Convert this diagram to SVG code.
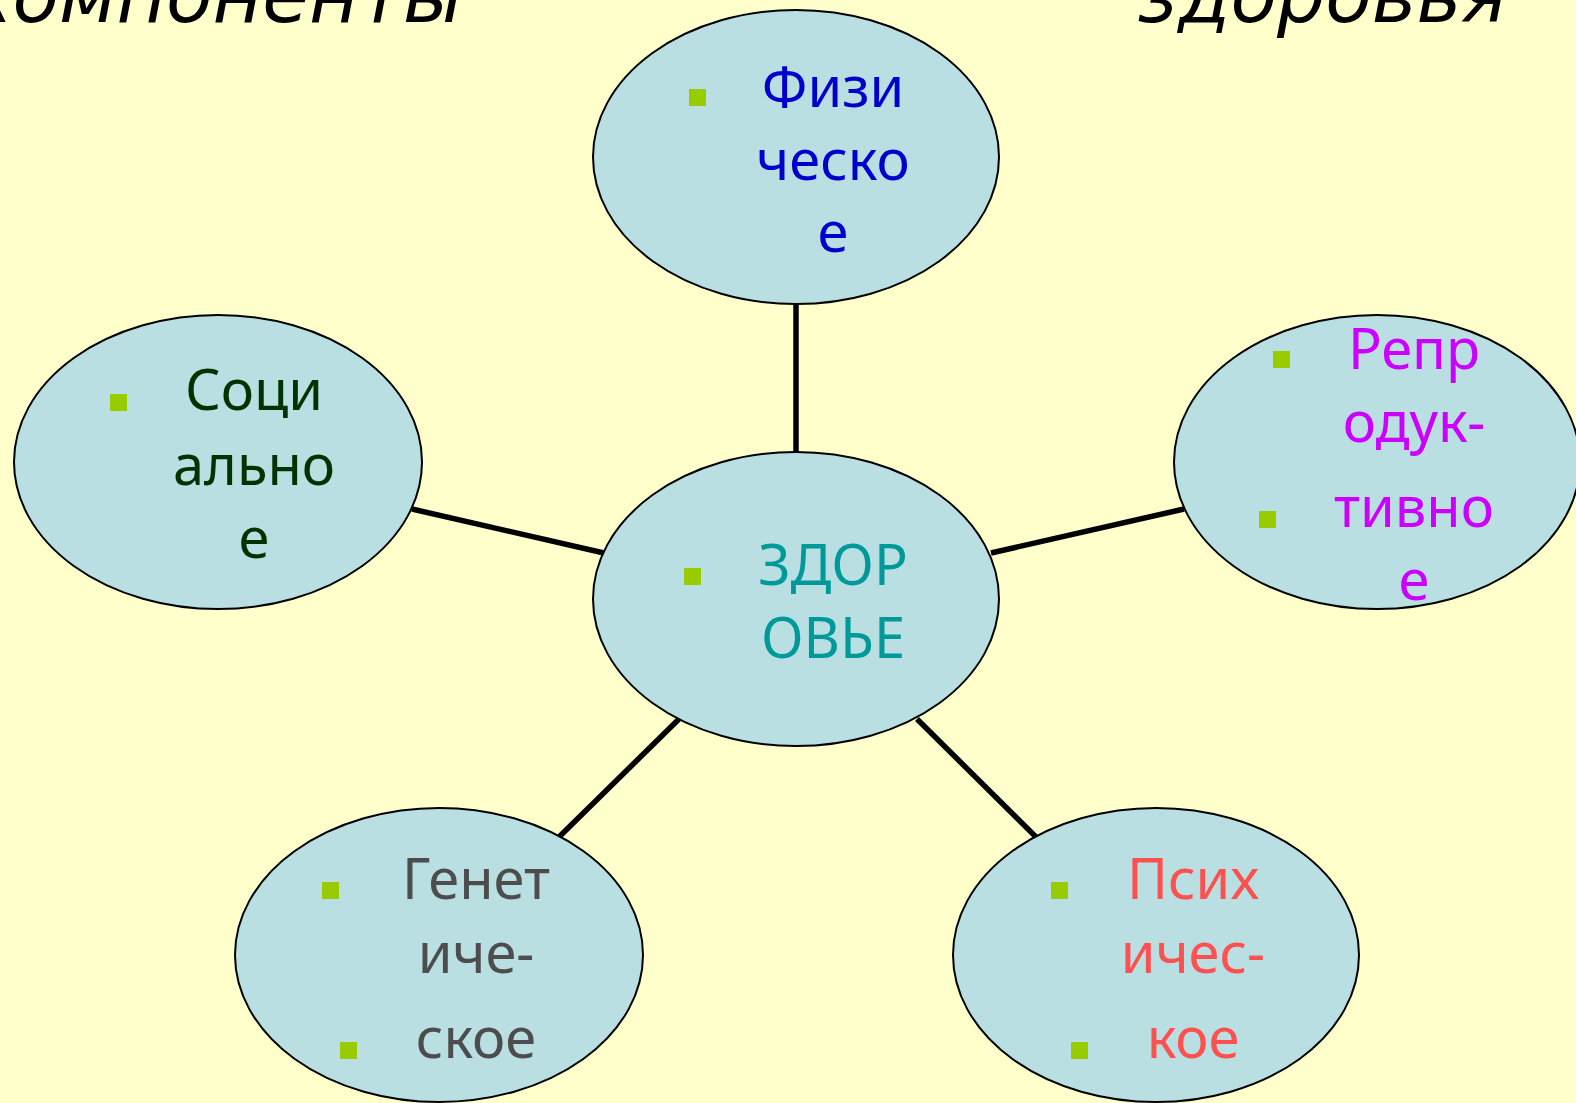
<svg xmlns="http://www.w3.org/2000/svg" width="1576" height="1103" viewBox="0 0 1576 1103">
  <style>
    .bg { fill: #FFFFCC; }
    .node ellipse { fill: #B9DFE3; stroke: #000; stroke-width: 2; }
    .bullet { fill: #99CC00; }
    .lbl { font-family: "Noto Sans", "DejaVu Sans", sans-serif; font-size: 56px; text-anchor: middle; }
    .title { font-family: "DejaVu Sans", Verdana, sans-serif; font-size: 76px; font-style: italic; fill: #000; }
    #connectors line { stroke: #000; stroke-width: 5.5; }
  </style>
  <rect class="bg" x="0" y="0" width="1576" height="1103"/>

  <!-- heading, clipped by the top edge -->
  <text class="title" x="463" y="22" text-anchor="end">Компоненты</text>
  <text class="title" x="1507" y="22" text-anchor="end">здоровья</text>

  <g id="connectors">
    <line x1="796" y1="303" x2="796" y2="453"/>
    <line x1="412" y1="509" x2="604" y2="553"/>
    <line x1="991" y1="553" x2="1184" y2="509"/>
    <line x1="679" y1="719" x2="559" y2="837"/>
    <line x1="917" y1="719" x2="1036" y2="837"/>
  </g>

  <g id="node-physical" class="node">
    <ellipse cx="796" cy="157" rx="203" ry="147"/>
    <rect class="bullet" x="689" y="89" width="17" height="17"/>
    <text class="lbl" fill="#0000CC"><tspan x="833" y="107">Физи</tspan><tspan x="833" y="180">ческо</tspan><tspan x="833" y="252">е</tspan></text>
  </g>

  <g id="node-health" class="node">
    <ellipse cx="796" cy="599" rx="203" ry="147"/>
    <rect class="bullet" x="684" y="568" width="17" height="17"/>
    <text class="lbl" fill="#009999"><tspan x="833" y="585">ЗДОР</tspan><tspan x="833" y="658">ОВЬЕ</tspan></text>
  </g>

  <g id="node-social" class="node">
    <ellipse cx="218" cy="462" rx="204" ry="147"/>
    <rect class="bullet" x="110" y="394" width="17" height="17"/>
    <text class="lbl" fill="#003300"><tspan x="254" y="410">Соци</tspan><tspan x="254" y="485">ально</tspan><tspan x="254" y="558">е</tspan></text>
  </g>

  <g id="node-reproductive" class="node">
    <ellipse cx="1377" cy="462" rx="203" ry="147"/>
    <rect class="bullet" x="1273" y="351" width="17" height="17"/>
    <rect class="bullet" x="1259" y="511" width="17" height="17"/>
    <text class="lbl" fill="#CC00FF"><tspan x="1414" y="369">Репр</tspan><tspan x="1414" y="442">одук-</tspan><tspan x="1414" y="527">тивно</tspan><tspan x="1414" y="600">е</tspan></text>
  </g>

  <g id="node-genetic" class="node">
    <ellipse cx="439" cy="955" rx="204" ry="147"/>
    <rect class="bullet" x="322" y="882" width="17" height="17"/>
    <rect class="bullet" x="340" y="1042" width="17" height="17"/>
    <text class="lbl" fill="#4D4D4D"><tspan x="476" y="899">Генет</tspan><tspan x="476" y="973">иче-</tspan><tspan x="476" y="1058">ское</tspan></text>
  </g>

  <g id="node-mental" class="node">
    <ellipse cx="1156" cy="955" rx="203" ry="147"/>
    <rect class="bullet" x="1051" y="882" width="17" height="17"/>
    <rect class="bullet" x="1071" y="1042" width="17" height="17"/>
    <text class="lbl" fill="#FF5050"><tspan x="1193" y="899">Псих</tspan><tspan x="1193" y="973">ичес-</tspan><tspan x="1193" y="1058">кое</tspan></text>
  </g>
</svg>
